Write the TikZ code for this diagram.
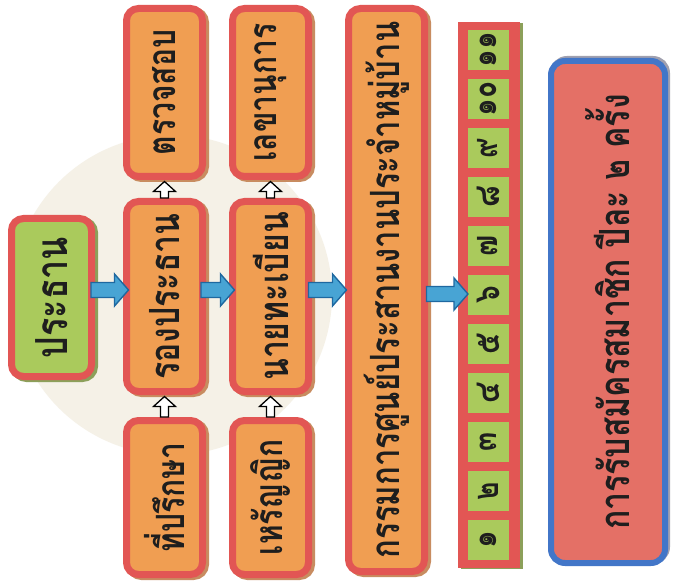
\documentclass[tikz,border=0pt]{standalone}
\usepackage{fontspec}
\usepackage{graphicx}
\newfontfamily\thai[Script=Thai]{Loma}
\usetikzlibrary{calc}
\definecolor{redb}{RGB}{226,86,84}
\definecolor{orangef}{RGB}{240,158,82}
\definecolor{greenf}{RGB}{170,202,92}
\definecolor{salmonf}{RGB}{228,112,102}
\definecolor{blueb}{RGB}{66,118,200}
\definecolor{arrdark}{RGB}{30,104,160}
\definecolor{arrlight}{RGB}{72,164,212}
\definecolor{txt}{RGB}{30,30,30}
\definecolor{bgc}{RGB}{245,241,231}
\definecolor{shorange}{RGB}{200,140,96}
\definecolor{shgreen}{RGB}{140,160,90}
\definecolor{shblue}{RGB}{160,160,175}
\newcommand\rt[1]{\rotatebox{90}{\scalebox{1}[1.3]{#1}}}
% horizontal blue block arrow: #1 start, #2 tip
\newcommand\harrow[2]{%
  \filldraw[bluearr] let \p1=#1, \p2=#2 in
    (\x1,\y1+7.5pt) -- (\x2-14pt,\y1+7.5pt) -- (\x2-14pt,\y1+16pt) -- (\x2,\y1)
    -- (\x2-14pt,\y1-16pt) -- (\x2-14pt,\y1-7.5pt) -- (\x1,\y1-7.5pt) -- cycle;}
% vertical white block arrow pointing up: #1 tail, #2 tip
\newcommand\varrow[2]{%
  \filldraw[whitearr] let \p1=#1, \p2=#2 in
    (\x1-4pt,\y1) -- (\x1-4pt,\y2-10pt) -- (\x1-11pt,\y2-10pt) -- (\x1,\y2)
    -- (\x1+11pt,\y2-10pt) -- (\x1+4pt,\y2-10pt) -- (\x1+4pt,\y1) -- cycle;}
\begin{document}
\begin{tikzpicture}[x=1pt,y=-1pt,
  box/.style={draw=redb, line width=7pt, rounded corners=12pt, inner sep=0pt,
    text=txt, font=\thai\bfseries\fontsize{30}{32}\selectfont,
    preaction={draw=#1, fill=#1, transform canvas={xshift=3pt,yshift=-2pt}}},
  obox/.style={box=shorange, fill=orangef, minimum width=76pt},
  gbox/.style={box=shgreen, fill=greenf},
  sqr/.style={fill=greenf, minimum width=41pt, minimum height=40pt, inner sep=0pt,
    text=txt, font=\thai\bfseries\fontsize{28}{30}\selectfont},
  bluearr/.style={fill=arrlight, draw=arrdark, line width=1.4pt, line join=miter},
  whitearr/.style={fill=white, draw=black, line width=1.3pt, line join=miter},
]
\useasboundingbox (0,0) rectangle (681,583);
\fill[white] (0,0) rectangle (681,583);
\fill[bgc] (172,295) circle (160);

% column 1
\node[gbox, minimum width=80pt, minimum height=158pt, font=\thai\bfseries\fontsize{34}{36}\selectfont] (prez) at (51.5,297.5) {\rt{ประธาน}};
% column 2
\node[obox, minimum height=168pt] (chk) at (164.5,92.5) {\rt{ตรวจสอบ}};
\node[obox, minimum height=190pt, font=\thai\bfseries\fontsize{32}{34}\selectfont] (vp) at (164.5,296.5) {\rt{รองประธาน}};
\node[obox, minimum height=154pt] (adv) at (164.5,497.5) {\rt{ที่ปรึกษา}};
% column 3
\node[obox, minimum height=168pt] (sec) at (270.5,92.5) {\rt{เลขานุการ}};
\node[obox, minimum height=190pt, font=\thai\bfseries\fontsize{32}{34}\selectfont] (reg) at (270.5,296.5) {\rt{นายทะเบียน}};
\node[obox, minimum height=154pt] (tre) at (270.5,497.5) {\rt{เหรัญญิก}};
% column 4
\node[obox, minimum height=563pt, font=\thai\bfseries\fontsize{31}{33}\selectfont] (big) at (386.5,290) {\rt{กรรมการศูนย์ประสานงานประจำหมู่บ้าน}};
% strip
\fill[shgreen] (461,23) rectangle (523,569);
\fill[redb] (458,22) rectangle (520,568);
\coordinate (strip) at (458,294);
\foreach \n/\d in {1/๑,2/๒,3/๓,4/๔,5/๕,6/๖,7/๗,8/๘,9/๙,10/๑๐,11/๑๑}
  \node[sqr] (s\n) at (488,{50+49*(11-\n)}) {\rt{\d}};
% right box
\node[draw=blueb, line width=6pt, rounded corners=14pt, fill=salmonf,
  minimum width=114pt, minimum height=502pt, inner sep=0pt, text=txt,
  font=\thai\bfseries\fontsize{32}{34}\selectfont,
  preaction={draw=shblue, fill=shblue, transform canvas={xshift=2pt,yshift=2pt}}]
  (reg2) at (608,312) {\rt{การรับสมัครสมาชิก ปีละ ๒ ครั้ง}};

% rows for arrows
\coordinate (r1) at (0,290);
\coordinate (r2) at (0,294);
\harrow{($(prez.east |- r1)+(-4,0)$)}{($(vp.west |- r1)+(5.5,0)$)}
\harrow{($(vp.east |- r1)+(-5,0)$)}{($(reg.west |- r1)+(5.5,0)$)}
\harrow{($(reg.east |- r1)+(-3.5,0)$)}{($(big.west |- r1)+(1.5,0)$)}
\harrow{($(big.east |- r2)+(-1.5,0)$)}{($(strip)+(10,0)$)}
% white up arrows
\varrow{(adv.north)}{($(vp.south)+(0,1.5)$)}
\varrow{(vp.north)}{($(chk.south)+(0,1.5)$)}
\varrow{(tre.north)}{($(reg.south)+(0,1.5)$)}
\varrow{(reg.north)}{($(sec.south)+(0,1.5)$)}
\end{tikzpicture}
\end{document}
